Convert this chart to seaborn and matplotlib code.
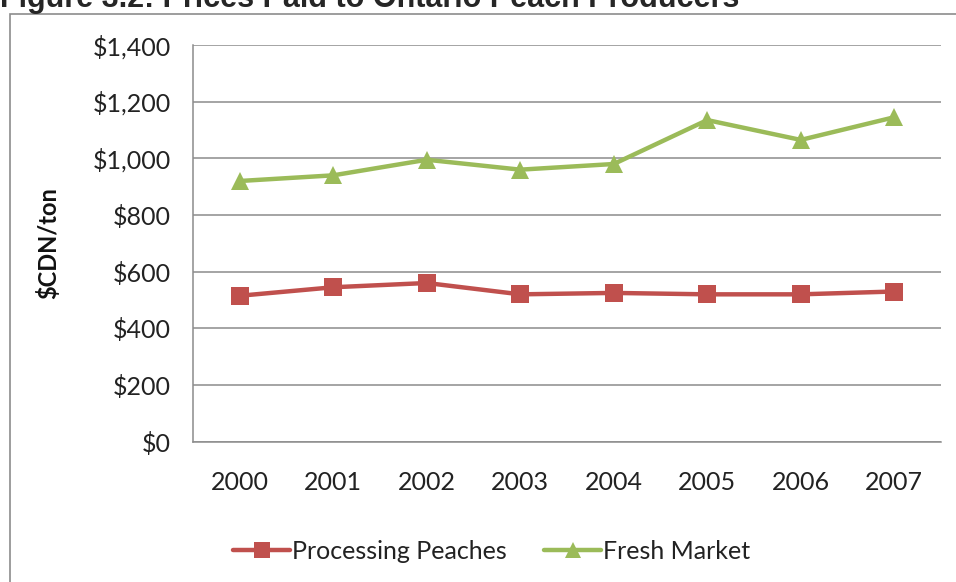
import matplotlib
matplotlib.use("Agg")
import matplotlib.pyplot as plt
from matplotlib.patches import Rectangle
import seaborn as sns
import pandas as pd

# Prices paid to Ontario peach producers, $CDN per ton
years = ["2000", "2001", "2002", "2003", "2004", "2005", "2006", "2007"]
processing = [515, 545, 560, 520, 525, 520, 520, 530]
fresh = [920, 940, 995, 960, 980, 1135, 1065, 1145]
series_names = ["Processing Peaches", "Fresh Market"]
y_ticks = [0, 200, 400, 600, 800, 1000, 1200, 1400]
y_tick_labels = ["$0", "$200", "$400", "$600", "$800", "$1,000", "$1,200", "$1,400"]

df = pd.DataFrame({
    "Year": years * 2,
    "Price": processing + fresh,
    "Series": [series_names[0]] * len(years) + [series_names[1]] * len(years),
})

sns.set_theme(style="white")
plt.rcParams["font.family"] = ["Lato", "DejaVu Sans"]

fig = plt.figure(figsize=(9.56, 5.82), dpi=100)
ax = fig.add_axes([0.2019, 0.2411, 0.7824, 0.6816])

palette = {series_names[0]: "#C0504D", series_names[1]: "#9BBB59"}
markers = {series_names[0]: "s", series_names[1]: "^"}

sns.lineplot(
    data=df, x="Year", y="Price", hue="Series", style="Series",
    palette=palette, markers=markers, dashes=False, linewidth=3.2,
    markersize=13, markeredgewidth=0, ax=ax, sort=False,
)

ax.set_xlim(-0.5, 7.5)
ax.set_ylim(0, 1400)
ax.set_yticks(y_ticks)
ax.set_yticklabels(y_tick_labels)
ax.yaxis.grid(True, color="#8c8c8c", linewidth=1.1)
ax.xaxis.grid(False)
ax.set_axisbelow(True)
for side in ("top", "right"):
    ax.spines[side].set_visible(False)
for side in ("left", "bottom"):
    ax.spines[side].set_color("#8c8c8c")
    ax.spines[side].set_linewidth(1.1)

ax.tick_params(axis="y", length=0, pad=16, labelsize=18, labelcolor="#222222")
ax.tick_params(axis="x", length=0, pad=21, labelsize=18, labelcolor="#222222")
ax.set_xlabel("")
ax.set_ylabel("$CDN/ton", fontsize=17, fontweight="bold", color="#111111")
ax.yaxis.set_label_coords(-0.178, 0.5)

handles, labels = ax.get_legend_handles_labels()
ax.legend(
    handles, labels, loc="center", bbox_to_anchor=(0.514, 0.053),
    bbox_transform=fig.transFigure, ncol=2, frameon=False, fontsize=18,
    handlelength=2.3, columnspacing=1.5, handletextpad=0.05, markerscale=0.85,
)
for txt in ax.get_legend().get_texts():
    txt.set_color("#222222")

# Chart frame
fig.patches.append(Rectangle(
    (10 / 956, -0.1), 1.2, 1.1 - 14 / 582, transform=fig.transFigure,
    fill=False, edgecolor="#8c8c8c", linewidth=1.2,
))

fig.text(0.0, 1 - 7 / 582, "Figure 3.2: Prices Paid to Ontario Peach Producers",
         ha="left", va="baseline", fontsize=22, fontweight="bold",
         family=["Liberation Sans", "DejaVu Sans"])

fig.savefig("out.png", dpi=100)
